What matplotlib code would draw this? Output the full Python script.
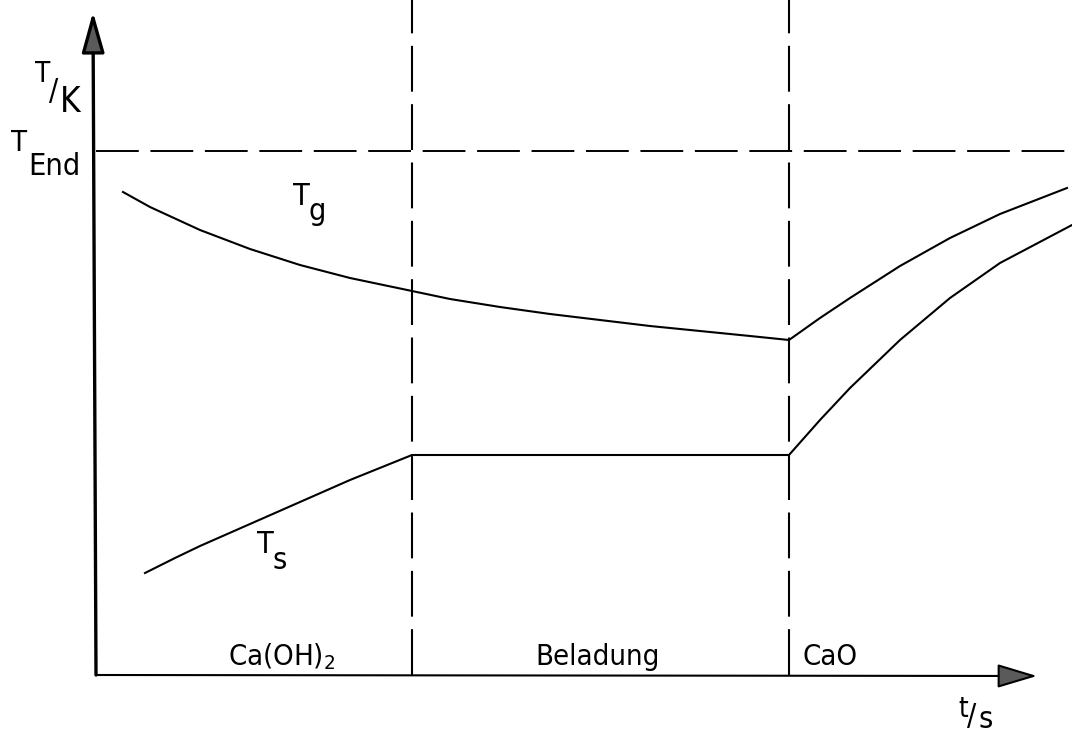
import matplotlib
matplotlib.use("Agg")
import matplotlib.pyplot as plt

# schematic temperatures over time (arbitrary units)
t_phase = [3.16, 6.93]          # ends of Ca(OH)2 phase and Beladung phase
T_end = 5.24

tg_t = [0.27, 0.54, 1.04, 1.54, 2.04, 2.54, 3.16, 3.54, 4.04, 4.54, 5.04,
        5.54, 6.04, 6.54, 6.93, 7.24, 7.54, 8.04, 8.54, 9.04, 9.71]
tg_T = [4.83, 4.68, 4.45, 4.26, 4.10, 3.97, 3.84, 3.76, 3.68, 3.61, 3.55,
        3.49, 3.44, 3.39, 3.35, 3.57, 3.77, 4.09, 4.37, 4.61, 4.87]

ts_t = [0.49, 0.79, 1.04, 1.54, 2.04, 2.54, 3.16, 6.93, 7.24, 7.54, 8.04,
        8.54, 9.04, 9.76]
ts_T = [1.02, 1.17, 1.29, 1.51, 1.73, 1.95, 2.20, 2.20, 2.55, 2.87, 3.35,
        3.77, 4.12, 4.50]

phase_names = ["Ca(OH)$_2$", "Beladung", "CaO"]
phase_label_t = [1.86, 5.02, 7.34]

plt.rcParams['font.family'] = ['DejaVu Sans']
plt.rcParams['font.stretch'] = 'condensed'
plt.rcParams['mathtext.fontset'] = 'custom'
plt.rcParams['mathtext.rm'] = 'DejaVu Sans:stretch=condensed'

fig = plt.figure(figsize=(10.72, 7.33), dpi=100)
ax = fig.add_axes([0, 0, 1, 1])
ax.set_xlim(-0.96, 9.76)
ax.set_ylim(-0.58, 6.75)
ax.axis('off')

dash = (22, 6)

# axes with filled arrow heads
ax.annotate('', xy=(-0.03, 6.63), xytext=(0, 0),
            arrowprops=dict(arrowstyle='-|>,head_length=2.5,head_width=0.7',
                            lw=2.4, facecolor='#5a5a5a', edgecolor='black',
                            shrinkA=0, shrinkB=0))
ax.annotate('', xy=(9.41, -0.01), xytext=(0, 0),
            arrowprops=dict(arrowstyle='-|>,head_length=2.5,head_width=0.75',
                            lw=1.5, facecolor='#5a5a5a', edgecolor='black',
                            shrinkA=0, shrinkB=0))

# T_End level and phase boundaries
ax.plot([0, 9.76], [T_end, T_end], color='black', lw=1.4, dashes=dash)
for tp in t_phase:
    ax.plot([tp, tp], [0, 6.75], color='black', lw=1.5, dashes=dash)

# gas and solid temperature
ax.plot(tg_t, tg_T, color='black', lw=1.5)
ax.plot(ts_t, ts_T, color='black', lw=1.5)

for name, tx in zip(phase_names, phase_label_t):
    ax.text(tx, 0.10, name, fontsize=21, ha='center', va='baseline')

ax.text(1.97, 4.70, 'T', fontsize=22, ha='left', va='baseline')
ax.text(2.12, 4.55, 'g', fontsize=22, ha='left', va='baseline')
ax.text(1.61, 1.22, 'T', fontsize=22, ha='left', va='baseline')
ax.text(1.76, 1.06, 's', fontsize=22, ha='left', va='baseline')

ax.text(-0.85, 5.24, 'T', fontsize=21, ha='left', va='baseline')
ax.text(-0.68, 5.00, 'End', fontsize=22, ha='left', va='baseline')

# unit labels T/K and t/s
ax.text(-0.61, 5.93, 'T', fontsize=20, ha='left', va='baseline')
ax.text(-0.47, 5.75, '/', fontsize=22, ha='left', va='baseline')
ax.text(-0.36, 5.63, 'K', fontsize=25, ha='left', va='baseline')

ax.text(8.62, -0.42, 't', fontsize=20, ha='left', va='baseline')
ax.text(8.71, -0.50, '/', fontsize=22, ha='left', va='baseline')
ax.text(8.82, -0.53, 's', fontsize=22, ha='left', va='baseline')

fig.savefig('out.png', dpi=100)
